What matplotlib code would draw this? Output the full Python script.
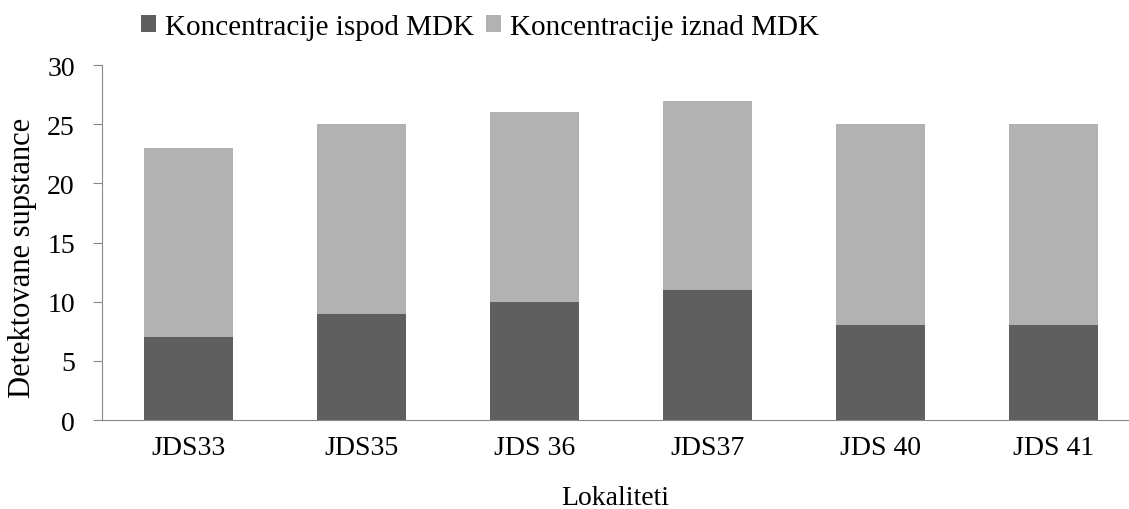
import matplotlib.pyplot as plt
import numpy as np

# Data
lokaliteti = ["JDS33", "JDS35", "JDS 36", "JDS37", "JDS 40", "JDS 41"]
ispod_mdk = [7, 9, 10, 11, 8, 8]
iznad_mdk = [16, 16, 16, 16, 17, 17]

plt.rcParams['font.family'] = ['Liberation Serif', 'DejaVu Serif']

fig = plt.figure(figsize=(11.29, 5.10), dpi=100)
ax = fig.add_axes([0.0903, 0.1745, 0.9097, 0.696])

x = np.arange(len(lokaliteti))
w = 0.51
ax.bar(x, ispod_mdk, w, color="#5f5f5f", label="Koncentracije ispod MDK")
ax.bar(x, iznad_mdk, w, bottom=ispod_mdk, color="#b2b2b2", label="Koncentracije iznad MDK")

# plot area runs past the right edge of the image, like the original
ax.set_xlim(-0.5, 5.437)
ax.set_ylim(0, 30)
ax.set_yticks(range(0, 31, 5))
ax.set_xticks(x)
ax.set_xticklabels(lokaliteti)
ax.tick_params(axis="x", length=0, labelsize=20, pad=11)
ax.tick_params(axis="y", length=6.5, labelsize=20, color="#888888", pad=13)

for s in ["top", "right"]:
    ax.spines[s].set_visible(False)
for s in ["left", "bottom"]:
    ax.spines[s].set_color("#888888")

ax.set_ylabel("Detektovane supstance", fontsize=22)
ax.yaxis.set_label_coords(-0.063, 0.46)
ax.set_xlabel("Lokaliteti", fontsize=20)
ax.xaxis.set_label_coords(0.4995, -0.182)

fig.legend(loc="center", bbox_to_anchor=(0.425, 0.946), ncol=2, frameon=False,
           fontsize=21, handlelength=0.52, handleheight=0.52, handletextpad=0.3,
           columnspacing=0.4, borderpad=0)

fig.savefig("out.png", dpi=100)
